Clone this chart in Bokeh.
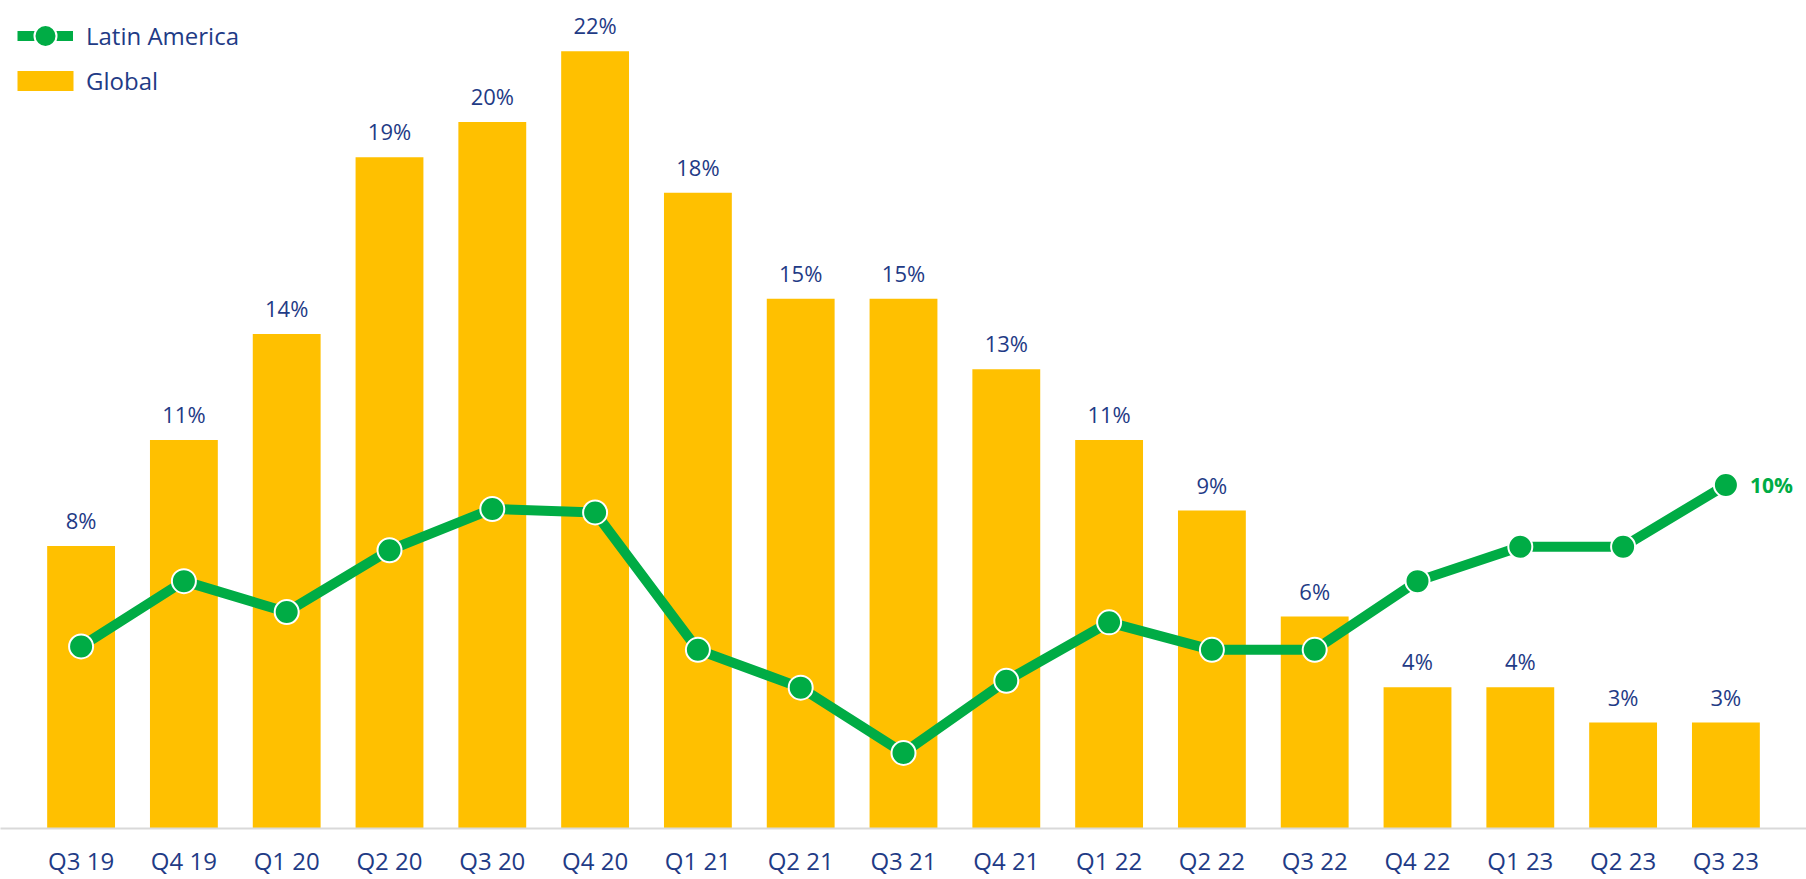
from bokeh.plotting import figure
from bokeh.models import Range1d, FactorRange, Legend, LegendItem, Label, ColumnDataSource
from bokeh.core.properties import value
from bokeh.embed import file_html
from bokeh.resources import INLINE

quarters = ["Q3 19", "Q4 19", "Q1 20", "Q2 20", "Q3 20", "Q4 20", "Q1 21", "Q2 21", "Q3 21",
            "Q4 21", "Q1 22", "Q2 22", "Q3 22", "Q4 22", "Q1 23", "Q2 23", "Q3 23"]
global_vals = [8, 11, 14, 19, 20, 22, 18, 15, 15, 13, 11, 9, 6, 4, 4, 3, 3]
latam_vals = [5.3, 7.2, 6.3, 8.1, 9.3, 9.2, 5.2, 4.1, 2.2, 4.3, 6.0, 5.2, 5.2, 7.2, 8.2, 8.2, 10.0]
global_labels = [f"{v}%" for v in global_vals]
latam_last_label = f"{latam_vals[-1]:.0f}%"

FONT = "Open Sans"
NAVY = "#1f3b86"
GOLD = "#FFC000"
GREEN = "#00AC45"

src = ColumnDataSource(dict(q=quarters, g=global_vals, l=latam_vals, gl=global_labels))

p = figure(width=1806, height=879, output_backend="svg", toolbar_location=None,
           x_range=FactorRange(*quarters, range_padding=0.284, range_padding_units="absolute"),
           y_range=Range1d(0, 23.44), min_border_left=0, min_border_right=0,
           min_border_top=0, min_border_bottom=47)
p.extra_y_ranges = {"latam": Range1d(0, 24.1)}
p.outline_line_color = None
p.xgrid.visible = False
p.ygrid.visible = False
p.yaxis.visible = False
p.background_fill_color = "white"
p.border_fill_color = "white"

ax = p.xaxis[0]
ax.axis_line_color = "#d9d9d9"
ax.axis_line_width = 2
ax.major_tick_line_color = None
ax.minor_tick_line_color = None
ax.major_label_text_font = FONT
ax.major_label_text_font_size = "24px"
ax.major_label_text_color = NAVY
ax.major_label_standoff = 9

bars = p.vbar(x="q", top="g", width=0.66, source=src, fill_color=GOLD, line_color=None)
p.text(x="q", y="g", text="gl", source=src, text_font=value(FONT), text_font_size="22px",
       text_color=NAVY, text_align="center", text_baseline="middle", y_offset=-26)

line = p.line(x="q", y="l", source=src, line_color=GREEN, line_width=10, y_range_name="latam")
dots = p.scatter(x="q", y="l", source=src, size=24, fill_color=GREEN, line_color="white",
                 line_width=2, y_range_name="latam")

# centre of the last category in the factor range's synthetic coordinates
p.add_layout(Label(x=len(quarters) - 0.5, y=latam_vals[-1], y_range_name="latam",
                   text=latam_last_label, x_offset=24, text_baseline="middle",
                   text_align="left", text_font=FONT, text_font_size="21px",
                   text_font_style="bold", text_color=GREEN))

legend_kw = dict(orientation="vertical", padding=0, margin=0, spacing=0,
                 border_line_color=None, background_fill_alpha=0,
                 label_text_font=FONT, label_text_font_size="24px", label_text_color=NAVY)

legend1 = Legend(items=[LegendItem(label="Latin America", renderers=[line, dots])],
                 location=(17, 765), glyph_width=56, glyph_height=55, label_height=20,
                 label_standoff=13, **legend_kw)
legend2 = Legend(items=[LegendItem(label="Global", renderers=[bars])],
                 location=(10, 731), glyph_width=70, glyph_height=25, label_height=20,
                 label_standoff=6, **legend_kw)
p.add_layout(legend1)
p.add_layout(legend2)

open("out.html", "w").write(file_html(p, INLINE))
